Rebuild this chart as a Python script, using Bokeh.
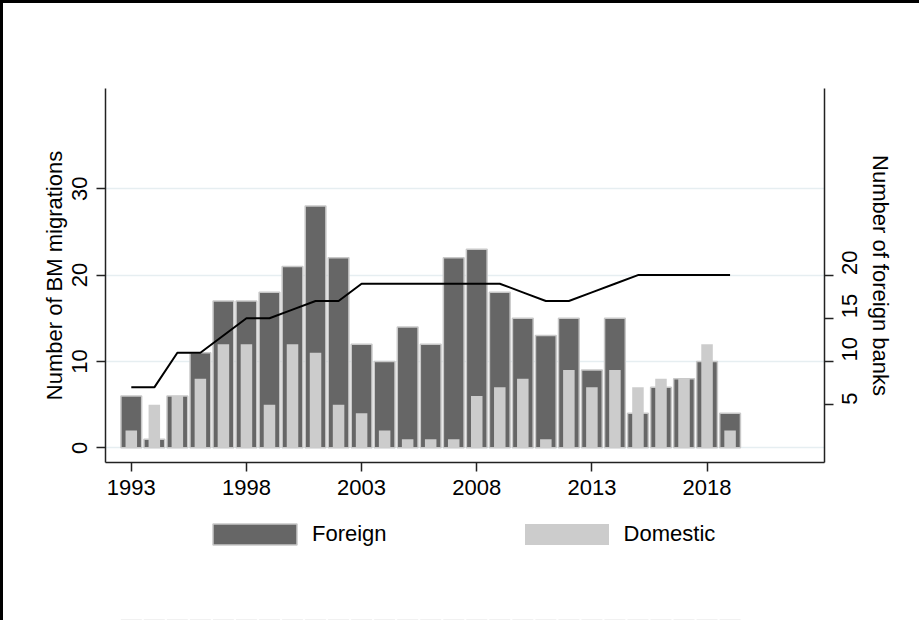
import math
from bokeh.plotting import figure
from bokeh.layouts import column
from bokeh.models import (Range1d, LinearAxis, FixedTicker, Legend, LegendItem,
                          ColumnDataSource)
from bokeh.embed import file_html
from bokeh.resources import INLINE

# Business-model migrations per year, by bank ownership
years = [1993, 1994, 1995, 1996, 1997, 1998, 1999, 2000, 2001, 2002, 2003, 2004,
         2005, 2006, 2007, 2008, 2009, 2010, 2011, 2012, 2013, 2014, 2015, 2016,
         2017, 2018, 2019]
foreign = [6, 1, 6, 11, 17, 17, 18, 21, 28, 22, 12, 10, 14, 12, 22, 23, 18, 15,
           13, 15, 9, 15, 4, 7, 8, 10, 4]
domestic = [2, 5, 6, 8, 12, 12, 5, 12, 11, 5, 4, 2, 1, 1, 1, 6, 7, 8, 1, 9, 7, 9,
            7, 8, 8, 12, 2]
# Number of foreign banks (right axis)
foreign_banks = [7, 7, 11, 11, 13, 15, 15, 16, 17, 17, 19, 19, 19, 19, 19, 19, 19,
                 18, 17, 17, 18, 19, 20, 20, 20, 20, 20]

x_ticks = [1993, 1998, 2003, 2008, 2013, 2018]
left_ticks = [0, 10, 20, 30]
right_ticks = [5, 10, 15, 20]

FONT = "Liberation Sans"
FS = "22px"
FOREIGN_FILL, FOREIGN_EDGE = "#666666", "#C8C8C8"
DOMESTIC_FILL = "#CCCCCC"
X_RANGE = (1991.88, 2023.1)

src = ColumnDataSource(dict(year=years, foreign=foreign, domestic=domestic,
                            banks=foreign_banks))

p = figure(width=919, height=515, output_backend="svg", toolbar_location=None,
           x_range=Range1d(*X_RANGE), y_range=Range1d(-1.70, 41.6),
           min_border_left=105, min_border_right=95, min_border_top=88,
           min_border_bottom=53)
# page frame along the top and left edges, seen through a transparent border
p.border_fill_alpha = 0
p.styles = {"background-color": "white",
            "box-shadow": "inset 3px 3px 0 0 black, inset 1px 1px 0 0 white"}
p.outline_line_color = None
p.background_fill_color = "white"

p.extra_y_ranges = {"banks": Range1d(-1.70, 41.6)}

p.vbar(x="year", top="foreign", bottom=0, width=0.9, source=src,
       fill_color=FOREIGN_FILL, line_color=FOREIGN_EDGE, line_width=1.5)
p.vbar(x="year", top="domestic", bottom=0, width=0.5, source=src,
       fill_color=DOMESTIC_FILL, line_color=None)
p.line(x="year", y="banks", source=src, y_range_name="banks",
       line_color="black", line_width=2)

# grid
p.xgrid.visible = False
p.ygrid.ticker = FixedTicker(ticks=left_ticks)
p.ygrid.grid_line_color = "#E6EEF1"
p.ygrid.grid_line_width = 1.5


def style_axis(ax):
    ax.axis_line_color = "#222222"
    ax.axis_line_width = 1.5
    ax.major_tick_line_color = "#222222"
    ax.major_tick_line_width = 1.5
    ax.major_tick_in = 0
    ax.major_tick_out = 9
    ax.minor_tick_line_color = None
    ax.major_label_text_font = FONT
    ax.major_label_text_font_size = FS
    ax.major_label_text_color = "black"
    ax.axis_label_text_font = FONT
    ax.axis_label_text_font_size = FS
    ax.axis_label_text_font_style = "normal"
    ax.axis_label_text_color = "black"


xa = p.xaxis[0]
style_axis(xa)
xa.ticker = FixedTicker(ticks=x_ticks)
xa.major_label_standoff = 8

ya = p.yaxis[0]
style_axis(ya)
ya.ticker = FixedTicker(ticks=left_ticks)
ya.axis_label = "Number of BM migrations"
ya.major_label_orientation = "vertical"
ya.major_label_standoff = 9
ya.axis_label_standoff = 3

# right axis: tick labels read bottom to top, like the left axis
yr = LinearAxis(y_range_name="banks", ticker=FixedTicker(ticks=right_ticks),
                axis_label="Number of foreign banks")
style_axis(yr)
yr.major_label_orientation = math.pi / 2
yr.major_label_standoff = 16
yr.axis_label_standoff = 0
p.add_layout(yr, "right")

# legend strip below the chart; its keys share the bar styles and source,
# with a y range that keeps the bars themselves out of view
leg = figure(width=919, height=105, output_backend="svg", toolbar_location=None,
             x_range=Range1d(*X_RANGE), y_range=Range1d(100, 101),
             min_border_left=0, min_border_right=0, min_border_top=0,
             min_border_bottom=0, x_axis_type=None, y_axis_type=None)
leg.grid.visible = False
leg.outline_line_color = None
leg.border_fill_alpha = 0
leg.background_fill_alpha = 0
leg.styles = {"background-color": "white",
              "box-shadow": "inset 3px 0 0 0 black, inset 1px 0 0 0 white"}
k_for = leg.vbar(x="year", top="foreign", bottom=0, width=0.9, source=src,
                 fill_color=FOREIGN_FILL, line_color=FOREIGN_EDGE, line_width=1.5)
k_dom = leg.vbar(x="year", top="domestic", bottom=0, width=0.5, source=src,
                 fill_color=DOMESTIC_FILL, line_color=None)
legend = Legend(items=[LegendItem(label="Foreign", renderers=[k_for]),
                       LegendItem(label="Domestic", renderers=[k_dom])],
                orientation="horizontal", location=(97, 73),
                glyph_width=105, glyph_height=26, label_height=21,
                label_standoff=5, spacing=127,
                padding=0, margin=0, border_line_color=None,
                background_fill_alpha=0, label_text_color="black",
                label_text_font=FONT, label_text_font_size=FS)
leg.add_layout(legend)

page = column(p, leg, spacing=0)
open("out.html", "w").write(file_html(page, INLINE))
